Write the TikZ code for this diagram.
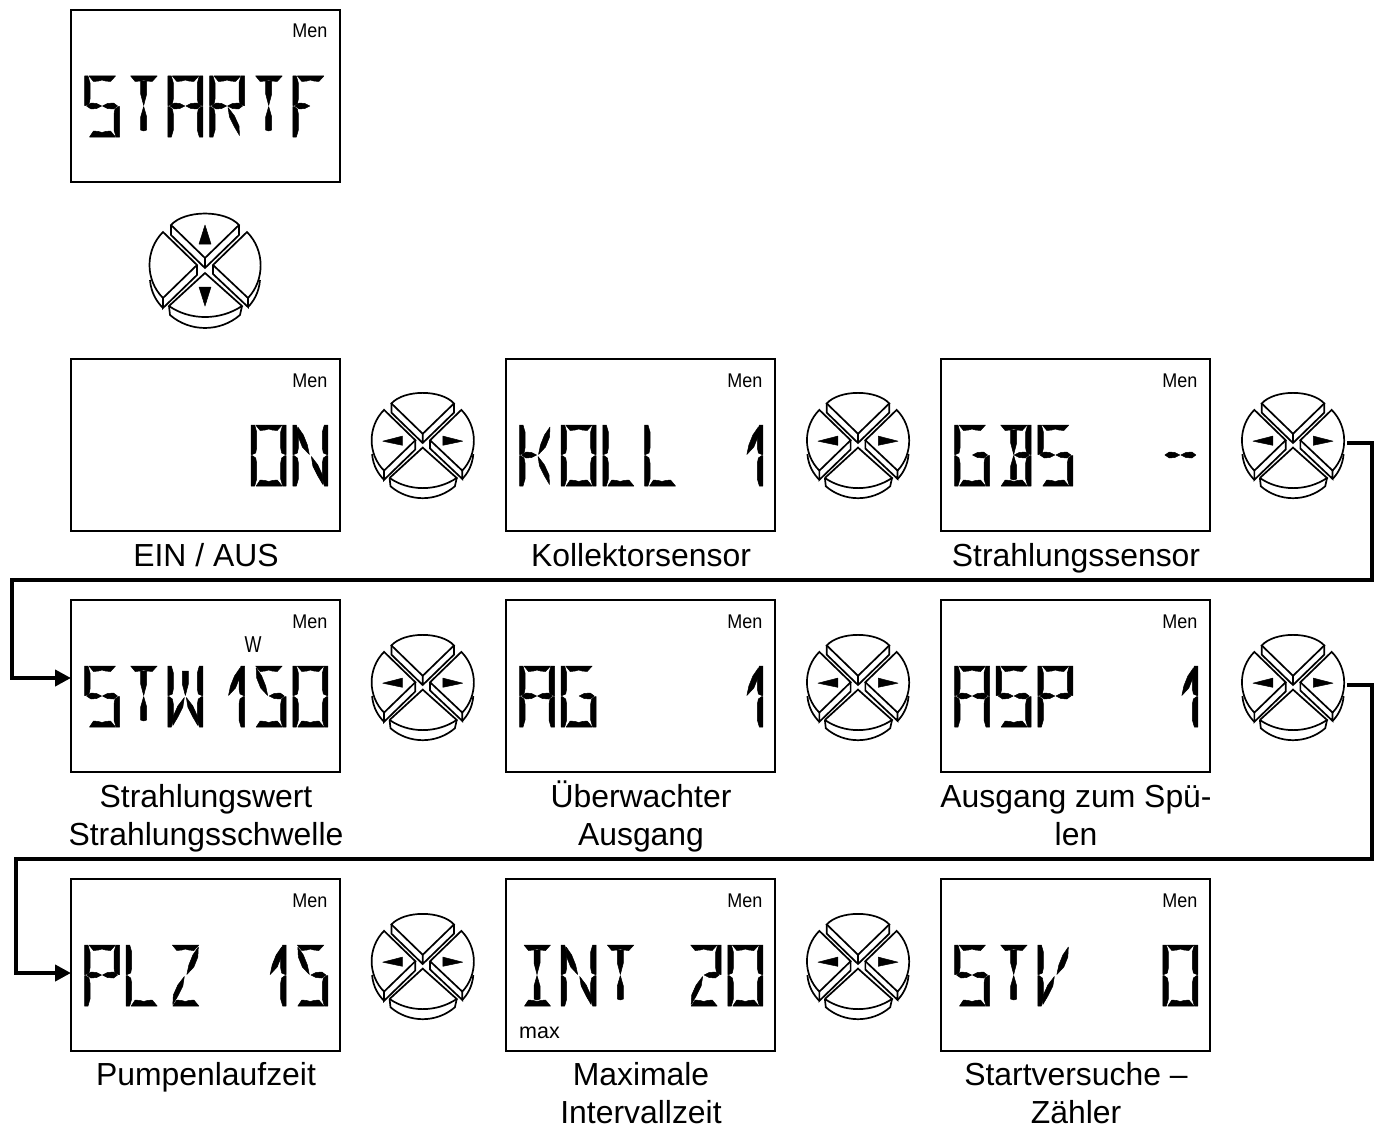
\documentclass[tikz,border=0pt]{standalone}
\usepackage{fontspec}
\setmainfont{Liberation Sans}
\usetikzlibrary{arrows.meta,calc}
% --- segment shapes of the LCD character cell (35 x 61)
\def\defseg#1#2{\expandafter\def\csname seg#1\endcsname{#2}}
\def\defchr#1#2{\expandafter\def\csname chr#1\endcsname{#2}}
\defseg{none}{}
\defseg{a}{(4.5,0)--(31,0)--(26,5.5)--(21,5)--(17.5,4)--(14,5)--(9,5.5)--cycle}
\defseg{d}{(5,61)--(31,61)--(26,55)--(21,55.5)--(17.5,56.5)--(14,55.5)--(9,55)--cycle}
\defseg{f}{(0,0)--(3.5,0)--(5.5,7)--(5.5,23)--(4.5,28)--(1,29.5)--(0,29.5)--cycle}
\defseg{e}{(0,30.5)--(1,30.5)--(4.5,33)--(5.5,38)--(5.5,54)--(3.5,61)--(0,61)--cycle}
\defseg{b}{(35,0)--(31.5,0)--(29.5,7)--(29.5,23)--(30.5,28)--(34,29.5)--(35,29.5)--cycle}
\defseg{c}{(35,30.5)--(34,30.5)--(30.5,33)--(29.5,38)--(29.5,54)--(31.5,61)--(35,61)--cycle}
\defseg{gl}{(2,30)--(6.5,27)--(12,27.5)--(17,30)--(12,32.5)--(6.5,33)--cycle}
\defseg{gr}{(18,30)--(23,27.5)--(29,27)--(33,30)--(29,33)--(23,32.5)--cycle}
\defseg{i}{(14.5,5)--(20.5,5)--(20.5,18)--(17.5,29.5)--(14.5,18)--cycle}
\defseg{j}{(17.5,30.5)--(20.5,41)--(20.5,54)--(17.5,55)--(14.5,54)--(14.5,41)--cycle}
\defseg{k}{(30.5,2)--(30,12)--(26,22)--(19,29.5)--(21,20)--(25,10)--cycle}
\defseg{h}{(5,2)--(5.5,12)--(9.5,22)--(16.5,29.5)--(14.5,20)--(10.5,10)--cycle}
\defseg{l}{(16.5,31.5)--(15,41)--(10,51)--(5,59.5)--(5.5,50)--(10,40)--cycle}
\defseg{m}{(18.5,31.5)--(20,41)--(25,51)--(30,59.5)--(29.5,50)--(25,40)--cycle}
% --- characters
\defchr{blank}{none}
\defchr{dash}{gl,gr}
\defchr{S}{a,f,gl,gr,c,d}
\defchr{T}{a,i,j}
\defchr{A}{a,f,e,b,c,gl,gr}
\defchr{R}{a,f,e,b,gl,gr,m}
\defchr{F}{a,f,e,gl}
\defchr{O}{a,b,c,d,e,f}
\defchr{N}{f,e,b,c,h,m}
\defchr{K}{f,e,gl,k,m}
\defchr{L}{f,e,d}
\defchr{G}{a,f,e,d,c,gr}
\defchr{B}{a,b,c,d,i,j,gr}
\defchr{W}{f,e,b,c,i,l,m}
\defchr{P}{a,f,e,b,gl,gr}
\defchr{Z}{a,k,l,d}
\defchr{I}{a,i,j,d}
\defchr{V}{f,e,k,l}
\defchr{one}{k,b,c}
\defchr{two}{a,b,gr,l,d}
\defchr{five}{a,h,gr,c,d}
% --- drawing macros
\newcommand{\lcdrow}[3]{%
  \foreach \chrname [count=\idx] in {#3} {%
    \begin{scope}[shift={({#1+13+41.67*(\idx-1)},{#2+66})}]
      \expandafter\let\expandafter\curchr\csname chr\chrname\endcsname
      \foreach \segname in \curchr {%
        \expandafter\let\expandafter\curseg\csname seg\segname\endcsname
        \filldraw[lcdseg] \curseg;
      }
    \end{scope}
  }%
}
\newcommand{\display}[4]{%
  \node[dispbox] (#1) at ({#2-.5},#3) {};
  \node[mentext] (#1men) at ({#2+256},{#3+28}) {Men};
  \lcdrow{#2}{#3}{#4}%
}
\newcommand{\keybody}{%
  \draw[keyline] (-34,-43) .. controls (-20,-58.3) and (20,-58.3) .. (34,-43) -- (0,-10) -- cycle;
  \draw[keyline] (-34,-43) -- (-34,-33) -- (0,0) -- (34,-33) -- (34,-43) (0,-10) -- (0,0);
  \draw[keyline] (-42,-36) .. controls (-60,-18) and (-60,12) .. (-42,30) -- (-8,-3) -- cycle;
  \draw[keyline] (-42,30) -- (-42,40) -- (-8,7) -- (-8,-3);
  \draw[keyline] (-55,12) .. controls (-54,25) and (-48,34) .. (-42,40);
  \draw[keyline] (42,-36) .. controls (60,-18) and (60,12) .. (43,30) -- (8,-3) -- cycle;
  \draw[keyline] (43,30) -- (43,39) -- (8,6) -- (8,-3);
  \draw[keyline] (55,12) .. controls (54,25) and (48,34) .. (43,39);
  \draw[keyline] (-36,38) -- (0,5) -- (37,38) .. controls (15,52.7) and (-15,52.7) .. cycle;
  \draw[keyline] (-36,38) -- (-35,47) .. controls (-15,64.3) and (15,64.3) .. (35,47) -- (37,38);
}
\newcommand{\keyside}[3]{%
  \node[keynode] (#1) at (#2,#3) {};
  \begin{scope}[shift={(#2,#3)},scale=.92]
    \keybody
    \filldraw[lcdseg] (-43.5,-2) -- (-22,-7.5) -- (-22,2.5) -- cycle;
    \filldraw[lcdseg] (43.5,-2) -- (22,-7.5) -- (22,2.5) -- cycle;
  \end{scope}%
}
\tikzset{
  lcdseg/.style={fill=black,draw=black,line width=.5pt,line join=round},
  dispbox/.style={draw=black,line width=2pt,anchor=north west,minimum width=269pt,minimum height=172pt,inner sep=0pt,outer sep=0pt,shape=rectangle},
  mentext/.style={anchor=base east,inner sep=0pt,yscale=1.1,font=\fontsize{18}{20}\selectfont},
  lbl/.style={anchor=north,inner sep=0pt,align=center,font=\fontsize{31.9}{38}\selectfont},
  keyline/.style={draw=black,line width=1.7pt,line join=miter},
  keynode/.style={shape=circle,minimum size=108pt,inner sep=0pt,outer sep=0pt},
  conn/.style={draw=black,line width=4.3pt,line join=miter,-{Triangle[length=16pt,width=16pt]}},
}
\begin{document}
\begin{tikzpicture}[x=1pt,y=-1pt]
\useasboundingbox[fill=white] (0,0) rectangle (1379,1124);
% displays
\display{dstart}{71.5}{10}{S,T,A,R,T,F}
\display{don}{71.5}{359}{blank,blank,blank,blank,O,N}
\display{dkoll}{506.5}{359}{K,O,L,L,blank,one}
\display{dgbs}{941.5}{359}{G,B,S,blank,blank,dash}
\display{dstw}{71.5}{600}{S,T,W,one,five,O}
\display{dag}{506.5}{600}{A,G,blank,blank,blank,one}
\display{dasp}{941.5}{600}{A,S,P,blank,blank,one}
\display{dplz}{71.5}{879}{P,L,Z,blank,one,five}
\display{dint}{506.5}{879}{I,N,T,blank,two,O}
\display{dstv}{941.5}{879}{S,T,V,blank,blank,O}
\node[anchor=base,inner sep=0pt,font=\fontsize{23}{25}\selectfont,xscale=.78] (wunit) at (253,652) {W};
\node[anchor=base west,inner sep=0pt,font=\fontsize{21.5}{24}\selectfont] (maxunit) at (519,1038) {max};
% up/down keypad
\node[keynode] (kstart) at (205,268) {};
\begin{scope}[shift={(205,268)}]
  \keybody
  \filldraw[lcdseg] (0,-43) -- (-6,-24) -- (6,-24) -- cycle;
  \filldraw[lcdseg] (0,38) -- (-6,19) -- (6,19) -- cycle;
\end{scope}
% left/right keypads
\keyside{ka}{422.7}{443}
\keyside{kb}{858}{443}
\keyside{kc}{1293}{443}
\keyside{kd}{422.7}{685}
\keyside{ke}{858}{685}
\keyside{kf}{1293}{685}
\keyside{kg}{422.7}{964}
\keyside{kh}{858}{964}
% labels
\node[lbl] (lon) at (206,539.4) {\strut EIN / AUS};
\node[lbl] (lkoll) at (641,539.4) {\strut Kollektorsensor};
\node[lbl] (lgbs) at (1076,539.4) {\strut Strahlungssensor};
\node[lbl] (lstw) at (206,780.4) {\strut Strahlungswert\\\strut Strahlungsschwelle};
\node[lbl] (lag) at (641,780.4) {\strut Überwachter\\\strut Ausgang};
\node[lbl] (lasp) at (1076,780.4) {\strut Ausgang zum Spü-\\\strut len};
\node[lbl] (lplz) at (206,1058.4) {\strut Pumpenlaufzeit};
\node[lbl] (lint) at (641,1058.4) {\strut Maximale\\Intervallzeit};
\node[lbl] (lstv) at (1076,1058.4) {\strut Startversuche –\\Zähler};
% connectors
\coordinate (ca1) at (1372,580);
\coordinate (ca2) at (12,580);
\coordinate (ca3) at (12,678);
\coordinate (cb1) at (1372,859);
\coordinate (cb2) at (16,859);
\coordinate (cb3) at (16,973);
\draw[conn] (kc.east) -| (ca1) -- (ca2) -- (ca3) -- (dstw.west |- ca3);
\draw[conn] (kf.east) -| (cb1) -- (cb2) -- (cb3) -- (dplz.west |- cb3);
\end{tikzpicture}
\end{document}
